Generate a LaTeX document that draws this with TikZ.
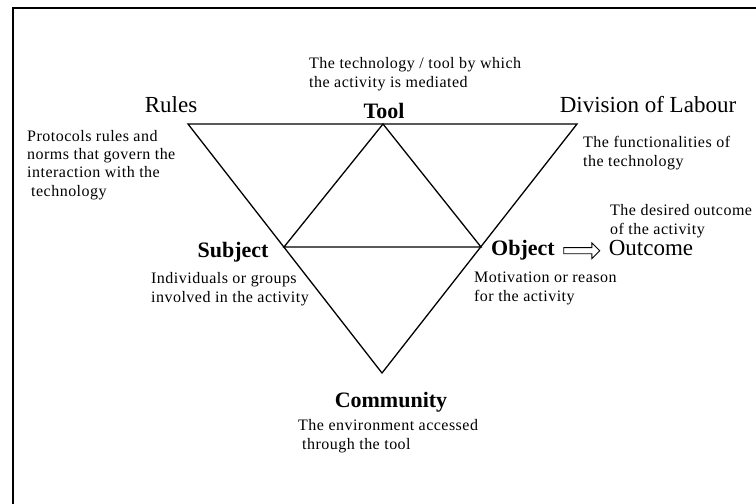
\documentclass[tikz,border=0pt]{standalone}
\usepackage{fontspec}
\setmainfont{Liberation Serif}
\newfontfamily\descfont[LetterSpace=3]{Liberation Serif}
\usetikzlibrary{shapes.arrows}

\begin{document}
\begin{tikzpicture}[x=1pt,y=-1pt,
    tri/.style={line width=1.3pt},
    frame/.style={line width=1.8pt},
    corner/.style={font=\fontsize{23}{26}\selectfont,anchor=base,inner sep=0pt},
    vertex/.style={font=\fontsize{22}{24}\selectfont\bfseries,anchor=base,inner sep=0pt},
    desc/.style={font=\descfont\fontsize{16}{18.3}\selectfont,align=left,anchor=base west,inner sep=0pt},
    flow/.style={single arrow,draw,line width=0.9pt,inner sep=2.6pt,minimum height=36pt,
        single arrow head extend=4.8pt,single arrow head indent=0pt,yshift=-2pt}]
    \useasboundingbox (0,0) rectangle (756,504);
    \draw[frame] (13,504) -- (13,8) -- (756,8);

    % corners of the triangles
    \coordinate (rules) at (188,124);
    \coordinate (division) at (577,124);
    \coordinate (tool) at (383,124);
    \coordinate (subject) at (284,247);
    \coordinate (object) at (481,247);
    \coordinate (community) at (382,373);
    \draw[tri] (rules) -- (division) -- (community) -- cycle;
    \draw[tri] (tool) -- (subject) -- (object) -- cycle;

    % labels
    \node[corner] (rulesl) at (171,112) {Rules};
    \node[corner] (divl) at (648,112) {Division of Labour};
    \node[vertex] (tooll) at (384,118) {Tool};
    \node[vertex] (subjl) at (233,257) {Subject};
    \node[vertex] (objl) at (523,255) {Object};
    \node[corner] (outl) at (651,255) {Outcome};
    \node[vertex] (comml) at (391,407) {Community};
    \path (objl) -- node[flow,pos=0.47] (outarrow) {} (outl);

    % descriptions (placed at the baseline of their last line)
    \node[desc] (toold) at (309,87) {The technology / tool by which\\the activity is mediated};
    \node[desc] (rulesd) at (27,196) {Protocols rules and\\norms that govern the\\interaction with the\\\hspace{4pt}technology};
    \node[desc] (divd) at (583,166) {The functionalities of\\the technology};
    \node[desc] (outd) at (610,234) {The desired outcome\\of the activity};
    \node[desc] (subjd) at (151,302) {Individuals or groups\\involved in the activity};
    \node[desc] (objd) at (474,301) {Motivation or reason\\for the activity};
    \node[desc] (commd) at (298,449) {The environment accessed\\\hspace{4pt}through the tool};
\end{tikzpicture}
\end{document}
